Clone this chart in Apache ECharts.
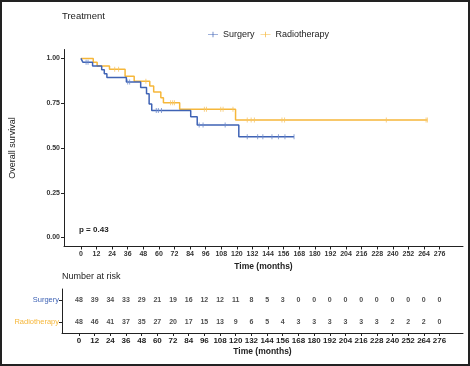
<!DOCTYPE html>
<html><head><meta charset="utf-8">
<script src="https://cdn.jsdelivr.net/npm/echarts@6/dist/echarts.min.js"></script>
<style>html,body{margin:0;padding:0;background:#fff}#c{width:470px;height:366px}</style>
</head><body><div id="c"></div>
<script>
// ---- data ----
var groups = ['Surgery', 'Radiotherapy'];
var surgeryTimes = [0, 1.5, 9, 16, 18, 20, 35, 46, 50.5, 52.5, 54.5, 84.5, 89.5, 121.5, 164];
var surgerySurv  = [1, 0.979, 0.958, 0.937, 0.915, 0.893, 0.868, 0.838, 0.803, 0.745, 0.710, 0.675, 0.628, 0.563, 0.563];
var radioTimes = [0, 9.5, 12.5, 22, 34, 41, 53, 56, 61.5, 63.5, 76, 119, 266.6];
var radioSurv  = [1, 0.979, 0.958, 0.940, 0.900, 0.873, 0.846, 0.812, 0.781, 0.753, 0.716, 0.656, 0.656];
var surgeryCensorTimes = [4, 5.5, 36, 37.5, 58, 59.6, 62, 91, 94, 111, 128, 136, 140, 147, 152, 157, 164];
var surgeryCensorSurv  = [0.979, 0.979, 0.868, 0.868, 0.710, 0.710, 0.710, 0.628, 0.628, 0.628, 0.563, 0.563, 0.563, 0.563, 0.563, 0.563, 0.563];
var radioCensorTimes = [26, 29, 50, 69, 70.6, 72, 95, 96.6, 107.6, 109.4, 117, 128, 131, 133.5, 154.7, 156.7, 235, 265.6, 266.6];
var radioCensorSurv  = [0.940, 0.940, 0.873, 0.753, 0.753, 0.753, 0.716, 0.716, 0.716, 0.716, 0.716, 0.656, 0.656, 0.656, 0.656, 0.656, 0.656, 0.656, 0.656];
var timeTicks = [0, 12, 24, 36, 48, 60, 72, 84, 96, 108, 120, 132, 144, 156, 168, 180, 192, 204, 216, 228, 240, 252, 264, 276];
var riskSurgery = [48, 39, 34, 33, 29, 21, 19, 16, 12, 12, 11, 8, 5, 3, 0, 0, 0, 0, 0, 0, 0, 0, 0, 0];
var riskRadio   = [48, 46, 41, 37, 35, 27, 20, 17, 15, 13, 9, 6, 5, 4, 3, 3, 3, 3, 3, 3, 2, 2, 2, 0];
var survTicks = [0, 0.25, 0.5, 0.75, 1];
var pText = 'p = 0.43';

// ---- chart ----
var BLUE = '#3f63b5', ORANGE = '#f6b73a';
var FONT = '"Liberation Sans", Arial, sans-serif';
function zip(a, b) { return a.map(function (v, i) { return [v, b[i]]; }); }
var chart = echarts.init(document.getElementById('c'), null, { renderer: 'canvas' });
var axisLine = { show: true, onZero: false, lineStyle: { color: '#222', width: 1 } };
var tickStyle = { show: true, length: 3, lineStyle: { color: '#222' } };
var lblStyle = { fontSize: 7, color: '#333', fontFamily: FONT, fontWeight: 'bold' };
var legendIcon = 'path://M0,4.5L14,4.5L14,5.5L0,5.5Z M6.5,1L7.5,1L7.5,9L6.5,9Z';

chart.setOption({
  animation: false,
  textStyle: { fontFamily: FONT },
  title: [
    { text: 'Treatment', left: 62, top: 11, padding: 0, textStyle: { fontSize: 9.5, fontWeight: 'normal', color: '#222', fontFamily: FONT } },
    { text: 'Number at risk', left: 62, top: 272, padding: 0, textStyle: { fontSize: 9, fontWeight: 'normal', color: '#222', fontFamily: FONT } }
  ],
  legend: {
    data: [{ name: groups[0], icon: legendIcon }, { name: groups[1], icon: legendIcon }],
    left: 208, top: 30, padding: 0, itemWidth: 10, itemHeight: 8, itemGap: 6,
    textStyle: { fontSize: 9, color: '#222', fontFamily: FONT }
  },
  grid: [
    { left: 62, right: 7, top: 49.5, height: 197 },
    { left: 62, right: 7, top: 289, height: 44 }
  ],
  xAxis: [
    { type: 'value', gridIndex: 0, min: -13, max: 294, splitLine: { show: false },
      axisLine: axisLine, axisTick: Object.assign({ customValues: timeTicks }, tickStyle),
      axisLabel: Object.assign({ customValues: timeTicks, margin: 4 }, lblStyle),
      name: 'Time (months)', nameLocation: 'middle', nameGap: 14,
      nameTextStyle: { fontSize: 8.5, color: '#222', fontFamily: FONT, fontWeight: 'bold' } },
    { type: 'value', gridIndex: 1, min: -13, max: 294, splitLine: { show: false },
      axisLine: axisLine, axisTick: Object.assign({ customValues: timeTicks }, tickStyle),
      axisLabel: { customValues: timeTicks, margin: 4, fontSize: 8, color: '#222', fontFamily: FONT, fontWeight: 'bold' },
      name: 'Time (months)', nameLocation: 'middle', nameGap: 14,
      nameTextStyle: { fontSize: 8.5, color: '#222', fontFamily: FONT, fontWeight: 'bold' } }
  ],
  yAxis: [
    { type: 'value', gridIndex: 0, min: -0.05, max: 1.05, splitLine: { show: false },
      axisLine: axisLine, axisTick: Object.assign({ customValues: survTicks }, tickStyle),
      axisLabel: Object.assign({ customValues: survTicks, margin: 4, formatter: function (v) { return v.toFixed(2); } }, lblStyle),
      name: 'Overall survival', nameLocation: 'middle', nameGap: 47, nameRotate: 90,
      nameTextStyle: { fontSize: 9, color: '#222', fontFamily: FONT } },
    { type: 'category', gridIndex: 1, data: [groups[1], groups[0]],
      axisLine: axisLine, axisTick: { show: true, alignWithLabel: true, length: 3, lineStyle: { color: '#222' } },
      axisLabel: { margin: 3, fontSize: 7.5, fontFamily: FONT,
        color: function (v) { return v === groups[0] ? BLUE : ORANGE; } } }
  ],
  graphic: [
    { type: 'text', left: 79, top: 226, style: { text: pText, fontSize: 8, fontWeight: 'bold', fill: '#222', fontFamily: FONT } },
    { type: 'rect', shape: { x: 1, y: 1, width: 468, height: 364 }, style: { fill: 'none', stroke: '#222', lineWidth: 2 }, silent: true, z: 100 }
  ],
  series: [
    { name: groups[0], type: 'line', step: 'end', xAxisIndex: 0, yAxisIndex: 0, showSymbol: false,
      data: zip(surgeryTimes, surgerySurv), lineStyle: { color: BLUE, width: 1.5 }, itemStyle: { color: BLUE }, z: 3 },
    { name: groups[1], type: 'line', step: 'end', xAxisIndex: 0, yAxisIndex: 0, showSymbol: false,
      data: zip(radioTimes, radioSurv), lineStyle: { color: ORANGE, width: 1.5 }, itemStyle: { color: ORANGE }, z: 2 },
    { name: groups[0], type: 'scatter', xAxisIndex: 0, yAxisIndex: 0, symbol: 'rect', symbolSize: [1, 5],
      data: zip(surgeryCensorTimes, surgeryCensorSurv), itemStyle: { color: '#6f8ccc' }, z: 4 },
    { name: groups[1], type: 'scatter', xAxisIndex: 0, yAxisIndex: 0, symbol: 'rect', symbolSize: [1, 5],
      data: zip(radioCensorTimes, radioCensorSurv), itemStyle: { color: '#f7c566' }, z: 4 },
    { type: 'scatter', xAxisIndex: 1, yAxisIndex: 1, symbolSize: 0,
      data: timeTicks.map(function (t, i) { return [t, groups[0], riskSurgery[i]]; }),
      label: { show: true, position: 'inside', formatter: function (p) { return p.value[2]; }, fontSize: 7, color: '#222', fontFamily: FONT, fontWeight: 'bold' } },
    { type: 'scatter', xAxisIndex: 1, yAxisIndex: 1, symbolSize: 0,
      data: timeTicks.map(function (t, i) { return [t, groups[1], riskRadio[i]]; }),
      label: { show: true, position: 'inside', formatter: function (p) { return p.value[2]; }, fontSize: 7, color: '#222', fontFamily: FONT, fontWeight: 'bold' } }
  ]
});
</script></body></html>
